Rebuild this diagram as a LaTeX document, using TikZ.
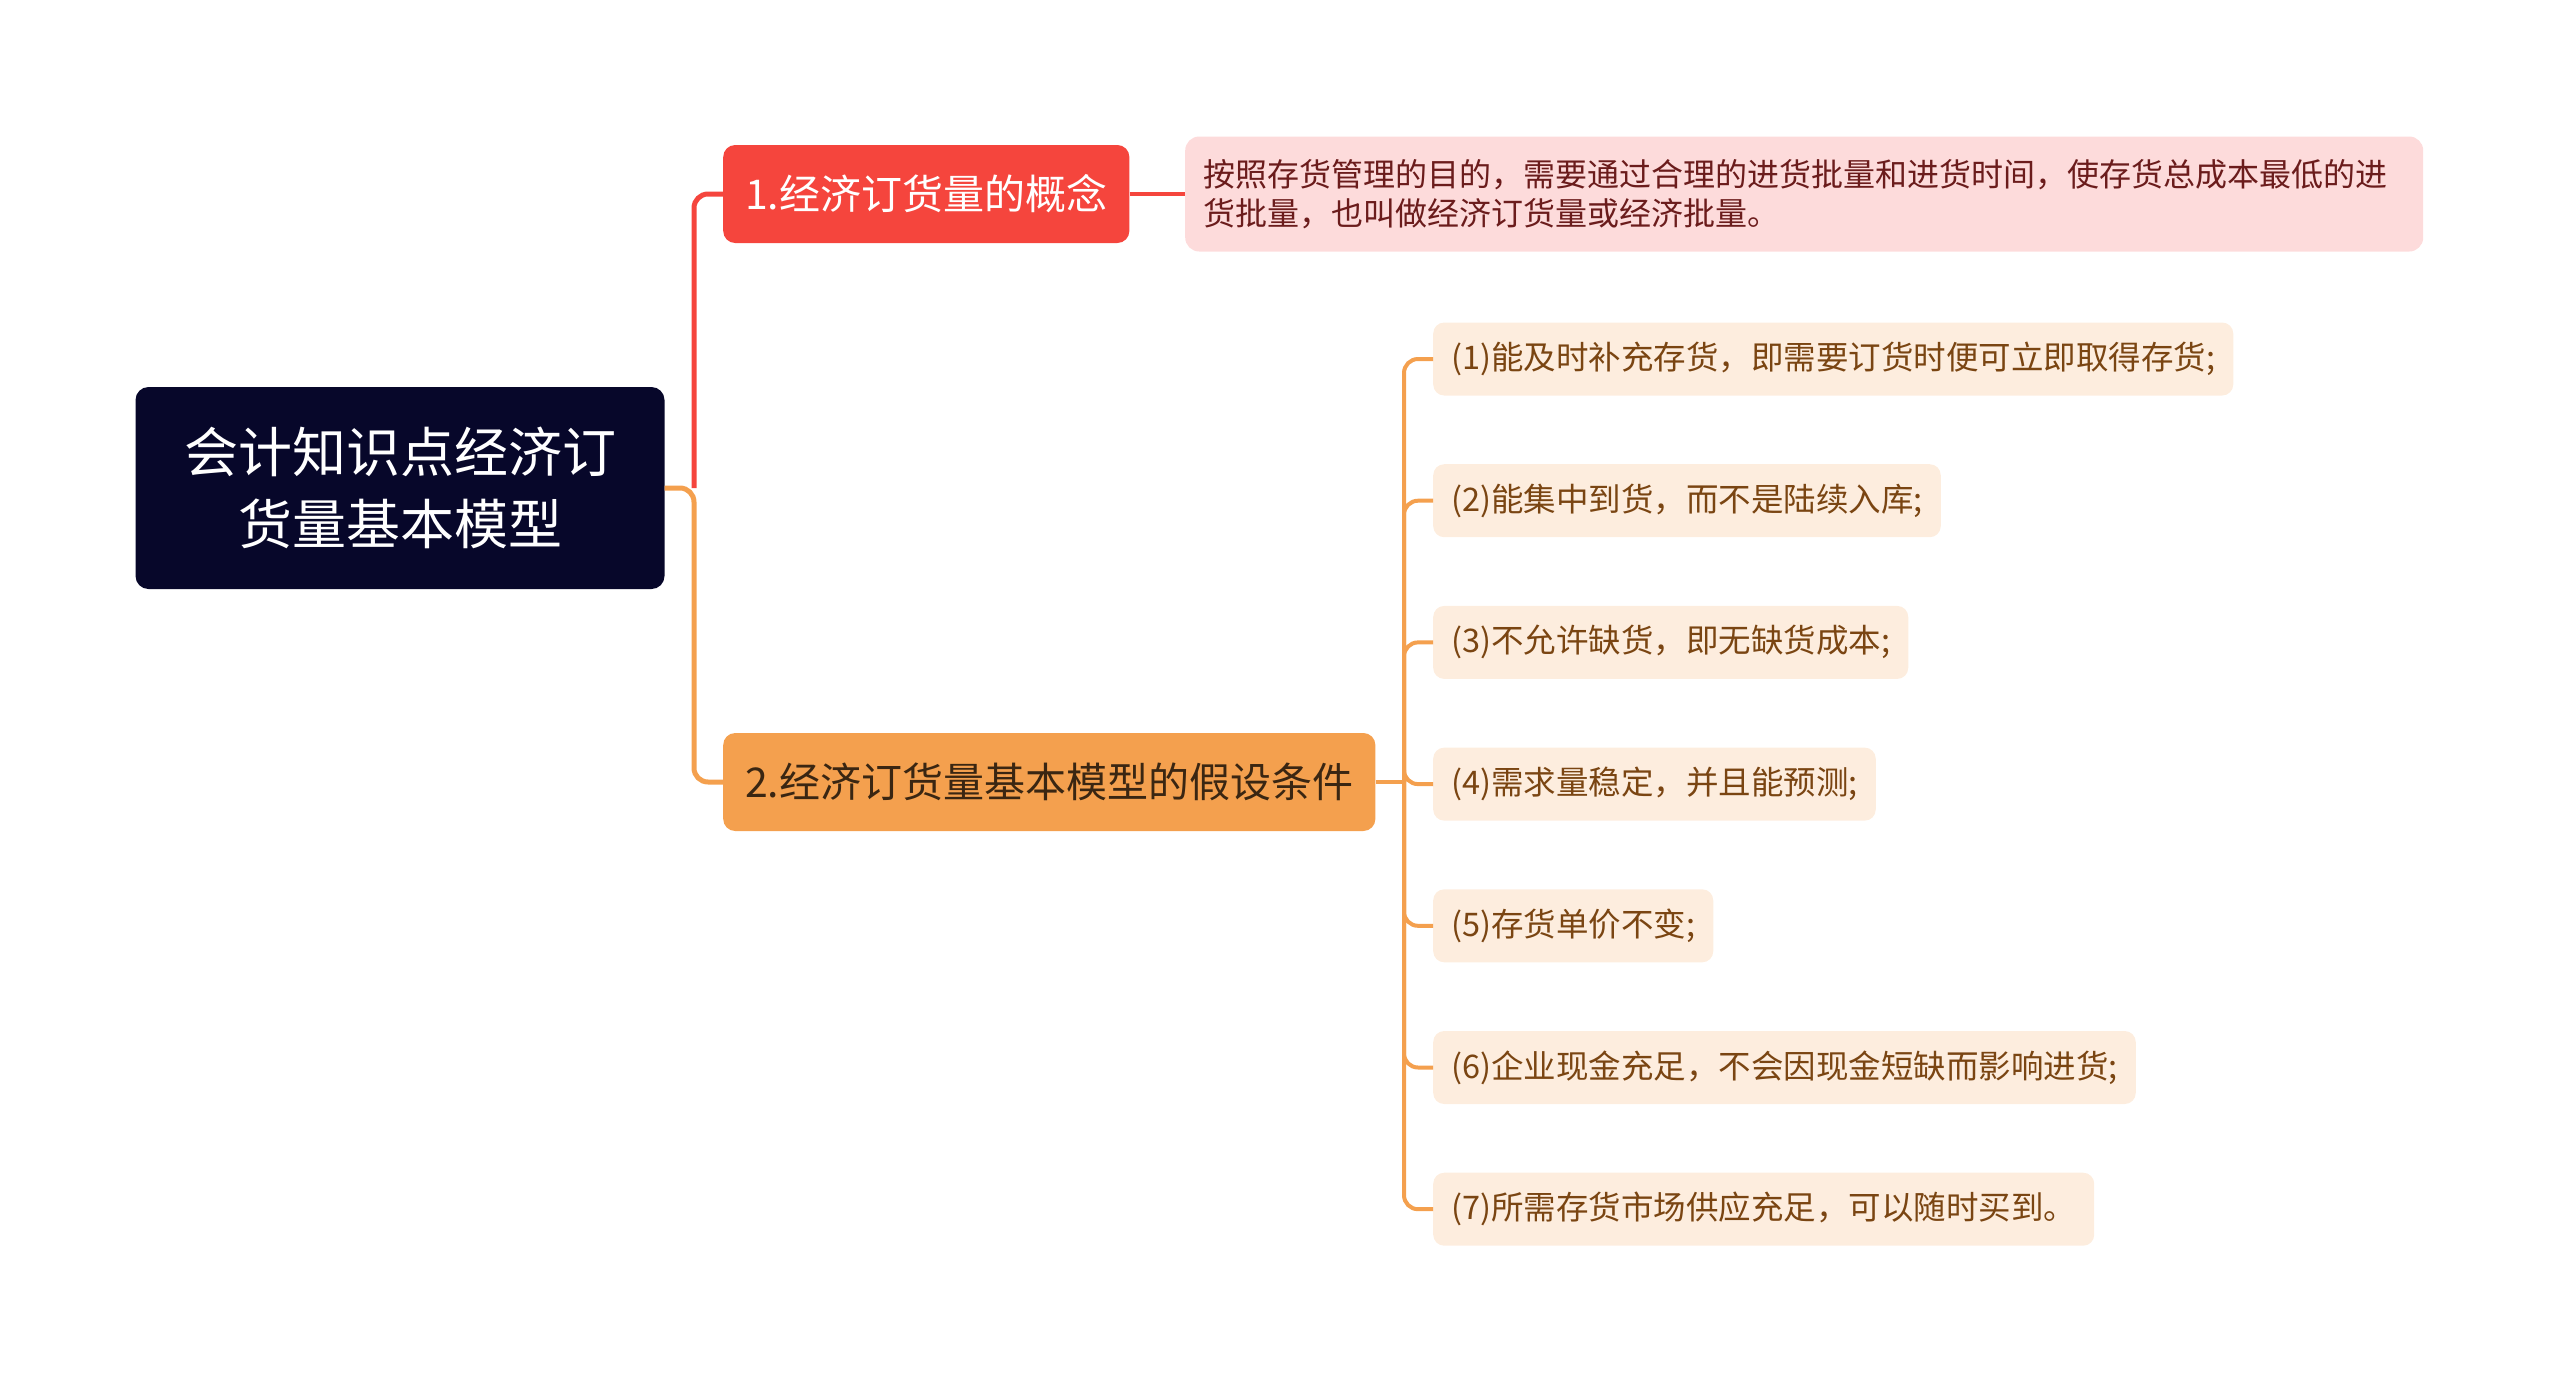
\documentclass[tikz,border=0pt]{standalone}
\usepackage{fontspec}
\newfontfamily\cjk{Noto Sans CJK SC}
\definecolor{rootbg}{HTML}{07072A}
\definecolor{redbr}{HTML}{F5453D}
\definecolor{orangebr}{HTML}{F4A04E}
\definecolor{descbg}{HTML}{FDDBDB}
\definecolor{desctxt}{HTML}{6B1C1C}
\definecolor{leafbg}{HTML}{FDEDDE}
\definecolor{leaftxt}{HTML}{7A4512}
\definecolor{titletxt}{HTML}{3A2612}
\begin{document}
\begin{tikzpicture}[x=1pt,y=-1pt,
    rootbox/.style={fill=rootbg, text=white, rounded corners=13, align=center,
      minimum width=529, minimum height=202, inner sep=0,
      font=\cjk\fontsize{54}{72}\selectfont},
    titlebox/.style={rounded corners=12, minimum height=98, inner xsep=22, anchor=west,
      font=\cjk\fontsize{41}{48}\selectfont},
    descbox/.style={fill=descbg, text=desctxt, rounded corners=14, anchor=west, align=left,
      minimum width=1238, minimum height=115, inner xsep=18, text width=1202,
      font=\cjk\fontsize{32}{39}\selectfont},
    leafbox/.style={fill=leafbg, text=leaftxt, rounded corners=11, anchor=west,
      minimum height=73, inner xsep=18,
      font=\cjk\fontsize{32.5}{39}\selectfont},
    branch/.style={line width=5, rounded corners=14},
    twig/.style={line width=4, orangebr, rounded corners=14}]
  \useasboundingbox (0,0) rectangle (2560,1382);

  % root and main branches
  \node[rootbox] (root) at (400,488) {会计知识点经济订\\货量基本模型};
  \node[titlebox, fill=redbr, text=white] (n1) at (723,194) {1.经济订货量的概念};
  \node[titlebox, fill=orangebr, text=titletxt] (n2) at (723,782) {2.经济订货量基本模型的假设条件};
  \node[descbox] (desc) at (1185,194) {按照存货管理的目的，需要通过合理的进货批量和进货时间，使存货总成本最低的进\\货批量，也叫做经济订货量或经济批量。};

  \coordinate (rj) at (694,488);
  \draw[branch, orangebr] (root.east) -- (rj) |- (n2.west);
  \draw[branch, redbr] (rj) |- (n1.west);
  \draw[branch, redbr, line width=4] (n1.east) -- (desc.west);

  % assumptions
  \foreach \i/\txt in {1/{(1)能及时补充存货，即需要订货时便可立即取得存货;},
      2/{(2)能集中到货，而不是陆续入库;},
      3/{(3)不允许缺货，即无缺货成本;},
      4/{(4)需求量稳定，并且能预测;},
      5/{(5)存货单价不变;},
      6/{(6)企业现金充足，不会因现金短缺而影响进货;},
      7/{(7)所需存货市场供应充足，可以随时买到。}}
    \node[leafbox] (l\i) at (1433,{359+141.7*(\i-1)}) {\txt};

  \coordinate (lj) at (1404,782);
  \draw[twig] (n2.east) -- (lj);
  \foreach \i in {1,...,7}
    \draw[twig] (lj) |- (l\i.west);
\end{tikzpicture}
\end{document}
